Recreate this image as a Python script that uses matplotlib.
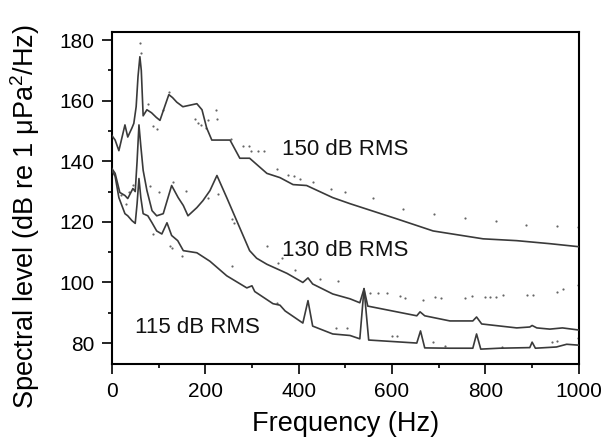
import matplotlib
matplotlib.use('Agg')
import matplotlib.pyplot as plt
from matplotlib.ticker import MultipleLocator

plt.rcParams['font.family'] = ['Liberation Sans', 'DejaVu Sans']
plt.rcParams['mathtext.fontset'] = 'custom'
plt.rcParams['mathtext.rm'] = 'Liberation Sans'

# 150 dB RMS spectrum (solid)
f_150 = [0, 7, 15, 28, 34, 43, 47, 52, 56, 60, 63, 67, 75, 85, 95, 103, 113, 122, 130, 139,
         152, 167, 182, 193, 203, 214, 253, 274, 295, 332, 360, 388, 417, 473, 510, 610,
         688, 795, 867, 938, 1000]
L_150 = [148.5, 147, 143.5, 152, 148, 151, 152.5, 158, 168, 174.5, 170, 155, 157, 156, 154.5,
         153.5, 158, 162, 161, 159.5, 158, 158.5, 159, 157, 151, 147, 147, 141, 141, 136,
         134.6, 132.3, 132, 128, 126, 121, 117, 114.4, 113.8, 112.8, 111.8]

# 130 dB RMS spectrum (solid)
f_130 = [0, 7, 17, 28, 34, 45, 50, 54, 58, 62, 67, 75, 86, 96, 110, 128, 142, 153, 163, 182,
         195, 210, 225, 246, 274, 295, 310, 332, 375, 409, 420, 430, 473, 510, 531, 540, 548,
         653, 660, 670, 724, 773, 781, 792, 867, 895, 900, 910, 938, 965, 1000]
L_130 = [137.6, 136, 129.7, 128.7, 127.7, 131, 130, 140, 152, 145, 137, 130.4, 123.7, 122,
         122.7, 132, 128, 125.4, 122, 124.7, 127, 130.3, 135.3, 128, 118, 110.5, 108, 106,
         103, 100, 101.5, 99.5, 96.2, 94.6, 93.3, 97.9, 92.2, 89, 90.3, 89, 87.3, 87.3, 88.6,
         86.3, 85, 85.3, 85.8, 85, 84.6, 85, 84.3]

# 115 dB RMS spectrum (solid)
f_115 = [0, 7, 15, 28, 34, 43, 50, 54, 58, 62, 67, 77, 86, 96, 107, 118, 128, 141, 153, 182,
         210, 246, 289, 300, 306, 345, 360, 371, 409, 420, 430, 473, 510, 531, 540, 550, 653,
         661, 670, 724, 773, 781, 790, 830, 895, 900, 907, 952, 974, 1000]
L_115 = [137, 135, 128, 122.7, 122, 120.4, 119.5, 126, 134.3, 128, 122.7, 122, 119.7, 117,
         116, 119.7, 115.5, 113.8, 110.5, 109.8, 107, 102.2, 98.2, 98.9, 97, 93, 92.5, 90.6,
         86.6, 94, 85.6, 83, 82.5, 81.4, 98, 81, 80, 84, 78.4, 78.3, 78.3, 83, 78, 78.3, 78.5,
         80.3, 78.3, 78.7, 79.6, 79.3]

# sparse dotted spectra
fd_150 = [61, 63, 78, 88, 96, 110, 122, 178, 184, 191, 201, 206, 223, 225, 256, 281, 293, 299,
          313, 325, 353, 377, 390, 403, 430, 470, 500, 559, 623, 690, 756, 822, 887, 953, 998]
Ld_150 = [179, 175.6, 159, 151.5, 150.5, 157, 163, 154, 152.5, 152, 151, 153.5, 157, 154, 147.5,
          145, 145, 143.3, 143.3, 143.3, 137.6, 135.6, 135, 134.3, 133.3, 131, 130, 128, 124.4,
          122.7, 121.4, 120.4, 119, 118.7, 118.4]

fd_130 = [36, 45, 81, 100, 131, 158, 205, 227, 257, 261, 332, 356, 365, 392, 445, 484, 552, 570,
          589, 617, 627, 666, 692, 704, 756, 771, 799, 809, 822, 837, 889, 901, 953, 966, 998]
Ld_130 = [130, 132.3, 132, 129.7, 133, 130.3, 128, 129.3, 121, 119.5, 112, 106.5, 108, 104, 101,
          100.5, 96.5, 96.5, 96.5, 95.5, 94.9, 94.2, 95.2, 95, 95, 95.6, 95.3, 95.3, 95.3, 96,
          96, 96, 97, 98, 99]

fd_115 = [20, 30, 88, 124, 128, 150, 257, 353, 481, 503, 599, 610, 687, 713, 835, 942, 953, 998]
Ld_115 = [129, 126, 116, 112, 111.5, 108.8, 105.5, 93.2, 85, 85, 82.3, 82.3, 80.3, 79, 78.7,
          80.3, 80.7, 81.7]

labels = ['150 dB RMS', '130 dB RMS', '115 dB RMS']
label_pos = [(365, 144), (365, 110.5), (49, 85)]

fig = plt.figure(figsize=(6.08, 4.41), dpi=100)
ax = fig.add_axes([0.184, 0.174, 0.768, 0.753])

line_color = '#3a3a3a'
for f, L in [(f_150, L_150), (f_130, L_130), (f_115, L_115)]:
    ax.plot(f, L, color=line_color, linewidth=1.2, zorder=3)
for f, L in [(fd_150, Ld_150), (fd_130, Ld_130), (fd_115, Ld_115)]:
    ax.scatter(f, L, s=2.5, color='#666666', linewidths=0, zorder=2)

for text, (x, y) in zip(labels, label_pos):
    ax.text(x, y, text, fontsize=16, ha='left', va='center', color='#111111')

ax.set_xlim(0, 1000)
ax.set_ylim(73, 182.6)
ax.xaxis.set_major_locator(MultipleLocator(200))
ax.xaxis.set_minor_locator(MultipleLocator(100))
ax.yaxis.set_major_locator(MultipleLocator(20))
ax.yaxis.set_minor_locator(MultipleLocator(10))
ax.tick_params(which='major', direction='out', length=7.2, width=1.2, labelsize=15, pad=5.5)
ax.tick_params(which='minor', direction='out', length=3, width=1.2)
ax.tick_params(top=False, right=False)
for spine in ax.spines.values():
    spine.set_linewidth(1.5)

ax.set_xlabel('Frequency (Hz)', fontsize=19.5, labelpad=7)
ax.set_ylabel(r'Spectral level (dB re 1 μPa$^2$/Hz)', fontsize=19.5)
ax.yaxis.set_label_coords(-0.15, 0.446)

fig.savefig('out.png', dpi=100)
